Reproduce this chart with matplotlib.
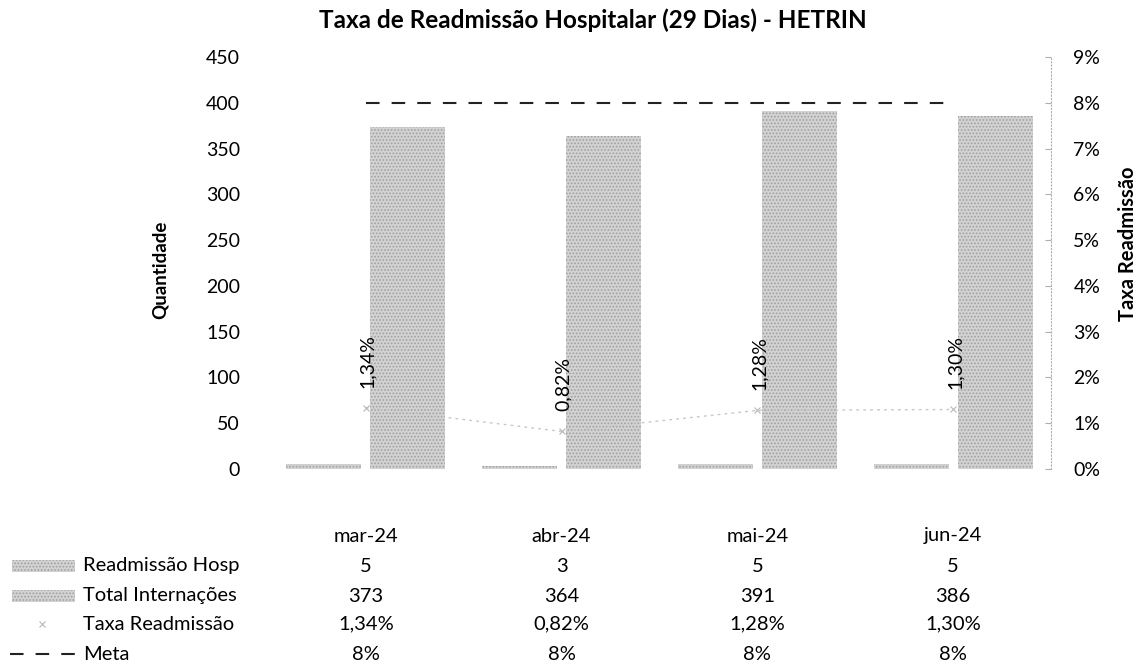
import numpy as np
import matplotlib
matplotlib.use("Agg")
import matplotlib.pyplot as plt
import matplotlib.transforms as mtransforms
from matplotlib.ticker import FuncFormatter

plt.rcParams['font.family'] = ['Lato', 'DejaVu Sans']
plt.rcParams['hatch.linewidth'] = 0.8

# data
meses = ["mar-24", "abr-24", "mai-24", "jun-24"]
readmissao = [5, 3, 5, 5]
internacoes = [373, 364, 391, 386]
taxa = [1.34, 0.82, 1.28, 1.30]   # %
meta = [8, 8, 8, 8]               # %

bar_face = '#d2d2d2'
bar_hatch = '#a0a0a0'

fig = plt.figure(figsize=(11.4, 6.64), dpi=100)
ax = fig.add_axes([0.235, 0.2937, 0.687, 0.6205])
ax2 = ax.twinx()

x = np.arange(len(meses))
w = 0.383
off = 0.215

ax.bar(x - off, readmissao, w, color=bar_face, edgecolor=bar_hatch, linewidth=0, hatch='.....')
ax.bar(x + off, internacoes, w, color=bar_face, edgecolor=bar_hatch, linewidth=0, hatch='.....')

ax.set_xlim(-0.5, 3.5)
ax.set_ylim(0, 450)
ax.set_yticks(range(0, 451, 50))
ax.set_xticks([])
for s in ax.spines.values():
    s.set_visible(False)
ax.tick_params(axis='y', length=0, pad=20, labelsize=14)
ax.set_ylabel("Quantidade", fontsize=13.5, fontweight='bold')
ax.yaxis.set_label_coords(-0.126, 0.483)

# secondary axis (taxa / meta)
ax2.plot(x, taxa, color='#c8c8c8', lw=1, ls=(0, (2, 3)), marker='x', ms=5, mec='#b8b8b8', mew=0.8)
ax2.plot(x, meta, color='#222222', lw=1.5, dashes=(6.5, 5.8))
for xi, t in zip(x, taxa):
    ax2.annotate(f"{t:.2f}%".replace('.', ','), (xi, t), xytext=(2, 20),
                 textcoords='offset pixels', rotation=90, ha='center', va='bottom', fontsize=14)

ax2.set_ylim(0, 9)
ax2.set_yticks(range(0, 10))
ax2.yaxis.set_major_formatter(FuncFormatter(lambda v, p: f"{int(v)}%"))
for k in ['top', 'left', 'bottom']:
    ax2.spines[k].set_visible(False)
ax2.spines['right'].set_color('#b0b0b0')
ax2.spines['right'].set_linestyle((0, (1, 2)))
ax2.spines['right'].set_linewidth(0.8)
ax2.tick_params(axis='y', direction='in', length=4, color='#b0b0b0', pad=16, labelsize=14)
ax2.set_ylabel("Taxa Readmissão", fontsize=14.5, fontweight='bold')
ax2.yaxis.set_label_coords(1.0856, 0.546)

fig.suptitle("Taxa de Readmissão Hospitalar (29 Dias) - HETRIN", x=0.52, y=0.987,
             fontsize=17.5, fontweight='bold')

# data table under the chart
tr = mtransforms.blended_transform_factory(ax.transData, fig.transFigure)
def fy(py):
    return 1 - py / 664.0

for xi, m in zip(x, meses):
    ax.text(xi, fy(536), m, transform=tr, ha='center', va='center', fontsize=14.5)

rows = [
    ("Readmissão Hosp", [str(v) for v in readmissao], 566),
    ("Total Internações", [str(v) for v in internacoes], 596),
    ("Taxa Readmissão", [f"{v:.2f}%".replace('.', ',') for v in taxa], 624),
    ("Meta", [f"{v}%" for v in meta], 654),
]
for label, vals, py in rows:
    fig.text(83 / 1140, fy(py), label, ha='left', va='center', fontsize=14.5)
    for xi, v in zip(x, vals):
        ax.text(xi, fy(py), v, transform=tr, ha='center', va='center', fontsize=14.5)

# legend keys of the table
for py in (566, 596):
    fig.patches.append(plt.Rectangle((12 / 1140, fy(py + 6)), 63 / 1140, 12 / 664,
                                     transform=fig.transFigure, facecolor=bar_face,
                                     edgecolor=bar_hatch, linewidth=0, hatch='.....'))
fig.add_artist(plt.Line2D([42 / 1140], [fy(624)], transform=fig.transFigure, marker='x',
                          ms=5, mec='#b8b8b8', mew=0.8, ls='none'))
fig.add_artist(plt.Line2D([10 / 1140, 75 / 1140], [fy(654), fy(654)], transform=fig.transFigure,
                          color='#222222', lw=1.5, dashes=(6.5, 5.8)))

fig.savefig("out.png", dpi=100)
